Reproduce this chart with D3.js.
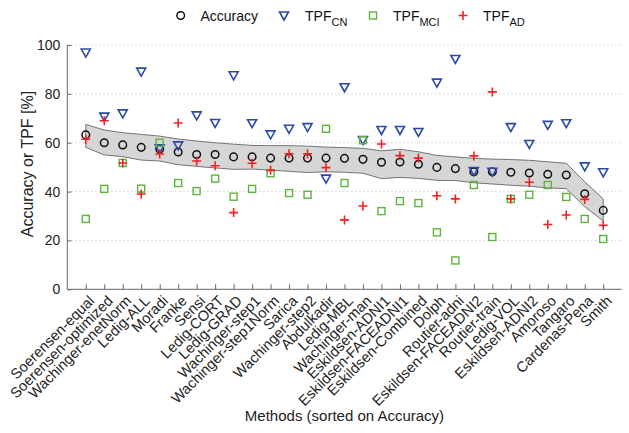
<!DOCTYPE html>
<html><head><meta charset="utf-8">
<script src="https://cdn.jsdelivr.net/npm/d3@7"></script>
<style>body{margin:0;background:#fff}svg{display:block;font-family:"Liberation Sans",Arial,sans-serif}</style>
</head><body><svg id="c" width="629" height="433"></svg>
<script>
const methods = ["Soerensen-equal","Soerensen-optimized","Wachinger-enetNorm","Ledig-ALL","Moradi","Franke","Sensi","Ledig-CORT","Ledig-GRAD","Wachinger-step1","Wachinger-step1Norm","Sarica","Wachinger-step2","Abdulkadir","Ledig-MBL","Wachinger-man","Eskildsen-ADNI1","Eskildsen-FACEADNI1","Eskildsen-Combined","Dolph","Routier-adni","Eskildsen-FACEADNI2","Routier-train","Ledig-VOL","Eskildsen-ADNI2","Amoroso","Tangaro","Cardenas-Pena","Smith"];
const accuracy = [63.2,60.0,59.1,58.1,57.4,56.2,55.2,55.2,54.2,54.2,53.7,53.7,53.7,53.7,53.6,53.2,52.0,52.1,51.2,49.9,49.4,48.1,48.1,47.9,47.6,47.1,46.8,39.1,32.3];
const tpfCN = [96.9,70.7,72.0,89.1,57.7,58.9,71.2,68.1,87.6,68.0,63.4,65.7,66.4,45.3,82.7,61.1,65.2,65.2,64.4,84.6,94.3,48.4,48.1,66.4,59.5,67.3,68.0,50.3,47.9];
const tpfMCI = [28.8,41.1,51.7,41.2,60.0,43.5,40.2,45.3,37.9,41.1,47.5,39.4,38.7,65.7,43.5,61.0,32.0,36.1,35.3,23.3,11.8,42.7,21.4,37.0,38.7,42.7,37.8,28.8,20.6];
const tpfAD = [61.4,69.0,51.7,39.0,55.4,68.1,52.5,50.6,31.4,51.6,48.7,55.5,55.5,49.8,28.4,34.1,59.5,54.7,53.7,38.3,37.0,54.6,80.8,37.0,43.8,26.5,30.4,36.8,26.2];
const bandUpper = [67.5,65.2,64.1,63.4,62.7,61.5,60.7,60.0,59.4,58.9,58.8,58.8,58.6,58.2,58.0,57.7,56.7,57.3,56.3,54.8,54.2,53.6,53.3,53.1,52.8,52.2,51.6,44.0,37.0];
const bandLower = [58.1,55.0,54.3,52.9,52.5,51.0,50.3,49.7,49.1,49.2,48.8,48.3,47.8,48.1,47.9,47.5,45.3,45.8,45.4,44.6,44.5,43.6,43.1,42.6,42.2,41.5,41.2,33.8,28.0];
const yTicks = [0,20,40,60,80,100];

const svg = d3.select("#c");
const L = 67.3, R = 621.7, T = 45, B = 289.3;
const x = d3.scaleLinear().domain([-1, methods.length]).range([L, R]);
const y = d3.scaleLinear().domain([0, 100]).range([B, T]);
const idx = d3.range(methods.length);

// gridlines
svg.append("g").selectAll("line").data(yTicks.filter(d=>d>0)).join("line")
  .attr("x1", L).attr("x2", R).attr("y1", d=>y(d)).attr("y2", d=>y(d))
  .attr("stroke", "#bbb").attr("stroke-width", 1).attr("stroke-dasharray", "1,3");

// band
const area = d3.area().x(i=>x(i)).y0(i=>y(bandLower[i])).y1(i=>y(bandUpper[i]));
svg.append("path").datum(idx).attr("d", area).attr("fill", "#d6d6d6").attr("stroke", "none");
const closed = d3.line().x(d=>d[0]).y(d=>d[1]);
const poly = idx.map(i=>[x(i), y(bandUpper[i])]).concat(idx.slice().reverse().map(i=>[x(i), y(bandLower[i])]));
poly.push(poly[0]);
svg.append("path").attr("d", closed(poly)).attr("fill", "none").attr("stroke", "#666").attr("stroke-width", 0.9);

// axes
const yAxis = d3.axisLeft(y).tickValues(yTicks).tickSize(-4).tickPadding(7).tickFormat(d3.format("d"));
const gy = svg.append("g").attr("transform", `translate(${L},0)`).call(yAxis);
const xAxis = d3.axisBottom(x).tickValues(idx).tickSize(-5).tickFormat("");
const gx = svg.append("g").attr("transform", `translate(0,${B})`).call(xAxis);
[gx, gy].forEach(g => {
  g.select(".domain").attr("stroke", "#666");
  g.selectAll(".tick line").attr("stroke", "#666");
});
gy.select(".domain").attr("d", `M0,${B}V${T}`);
gx.select(".domain").attr("d", `M${L},0H${R}`);
gy.selectAll(".tick text").attr("font-size", 14).attr("fill", "#222").attr("font-family", "Liberation Sans, Arial, sans-serif");

// x tick labels rotated
svg.append("g").selectAll("text").data(idx).join("text")
  .attr("transform", i => `translate(${x(i)+2},${B+5}) rotate(-45)`)
  .attr("text-anchor", "end").attr("dy", "0.72em")
  .attr("font-size", 14.6).attr("fill", "#222")
  .text(i => methods[i]);

// markers
const cAcc = "#111", cCN = "#2a4aa8", cMCI = "#5cb53a", cAD = "#f42020";
function tri(g, cx, cy){ g.append("path").attr("d", `M${cx-4.5},${cy-3.5}L${cx+4.5},${cy-3.5}L${cx},${cy+4.5}Z`).attr("fill","none").attr("stroke",cCN).attr("stroke-width",1.6); }
function sq(g, cx, cy){ g.append("rect").attr("x",cx-3.5).attr("y",cy-3.5).attr("width",7).attr("height",7).attr("fill","none").attr("stroke",cMCI).attr("stroke-width",1.4); }
function plus(g, cx, cy){ g.append("path").attr("d",`M${cx-4.5},${cy}H${cx+4.5}M${cx},${cy-4.5}V${cy+4.5}`).attr("stroke",cAD).attr("stroke-width",1.6); }
function circ(g, cx, cy){ g.append("circle").attr("cx",cx).attr("cy",cy).attr("r",3.8).attr("fill","none").attr("stroke",cAcc).attr("stroke-width",1.5); }

const gAcc = svg.append("g"), gCN = svg.append("g"), gMCI = svg.append("g"), gAD = svg.append("g");
idx.forEach(i => circ(gAcc, x(i), y(accuracy[i])));
idx.forEach(i => tri(gCN, x(i), y(tpfCN[i])));
idx.forEach(i => sq(gMCI, x(i), y(tpfMCI[i])));
idx.forEach(i => plus(gAD, x(i), y(tpfAD[i])));

// legend
const lg = svg.append("g").attr("font-size", 14).attr("fill", "#111");
circ(lg, 180.7, 15.5);
lg.append("text").attr("x", 200.5).attr("y", 21).text("Accuracy");
tri(lg, 284, 15.5);
let t = lg.append("text").attr("x", 305).attr("y", 21); t.append("tspan").text("TPF"); t.append("tspan").attr("font-size", 11).attr("dy", 5).text("CN");
sq(lg, 373, 15.5);
t = lg.append("text").attr("x", 393).attr("y", 21); t.append("tspan").text("TPF"); t.append("tspan").attr("font-size", 11).attr("dy", 5).text("MCI");
plus(lg, 463, 15.5);
t = lg.append("text").attr("x", 483).attr("y", 21); t.append("tspan").text("TPF"); t.append("tspan").attr("font-size", 11).attr("dy", 5).text("AD");

// axis titles
svg.append("text").attr("transform", `translate(33,164) rotate(-90)`).attr("text-anchor", "middle")
  .attr("font-size", 16).attr("fill", "#222").text("Accuracy or TPF [%]");
svg.append("text").attr("x", (L+R)/2).attr("y", 421).attr("text-anchor", "middle")
  .attr("font-size", 15).attr("fill", "#222").text("Methods (sorted on Accuracy)");
</script></body></html>
